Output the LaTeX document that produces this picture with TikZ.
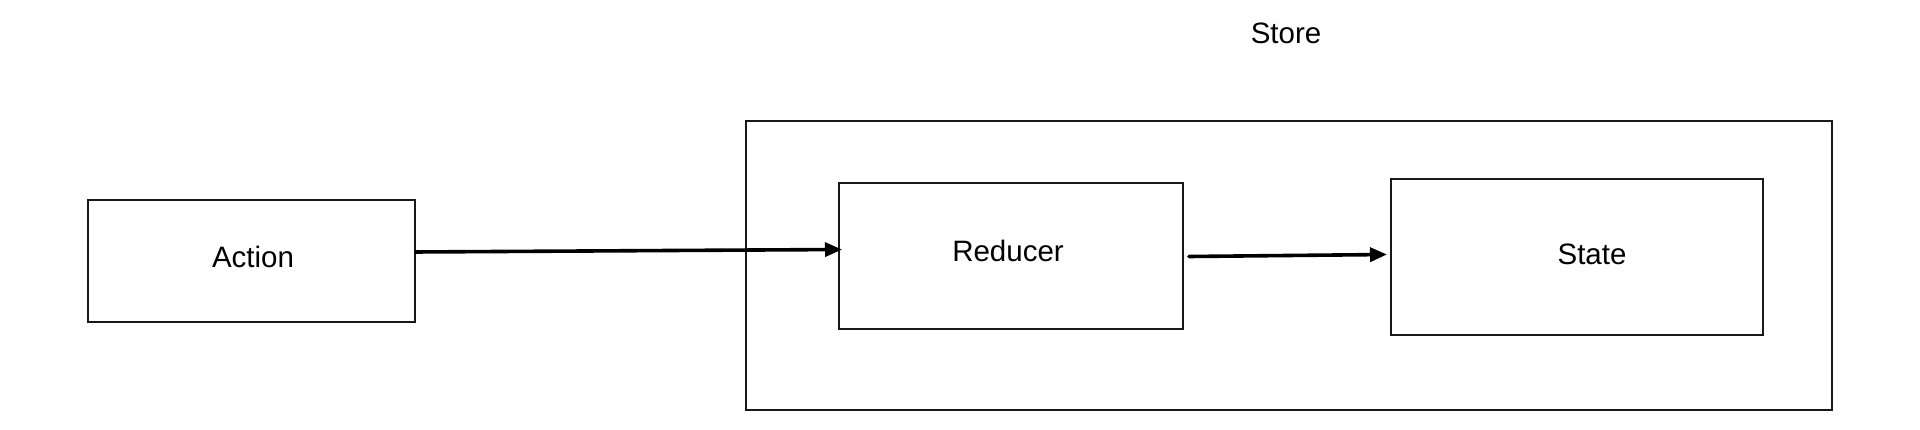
\documentclass[tikz,border=0pt]{standalone}
\usepackage{fontspec}
\setmainfont{Liberation Sans}
\usetikzlibrary{arrows.meta}
\begin{document}
\begin{tikzpicture}[x=1pt,y=-1pt,
  box/.style={draw=black!90,line width=2pt,inner sep=0pt,outer sep=0pt},
  lbl/.style={font=\fontsize{29.5}{34}\selectfont,inner sep=0pt},
  conn/.style={line width=3.6pt,-{Triangle[length=17pt,width=14pt]}}]
\useasboundingbox (0,0) rectangle (1920,430);
\fill[white] (0,0) rectangle (1920,430);
% boxes
\node[box,minimum width=1086pt,minimum height=289pt] (store) at (1289,265.5) {};
\node[box,minimum width=327pt,minimum height=122pt] (action) at (251,261) {};
\node[box,minimum width=344pt,minimum height=146pt] (reducer) at (1011,256.5) {};
\node[box,minimum width=372pt,minimum height=156pt] (state) at (1577,257.5) {};
% texts
\node[lbl] (storetxt) at (1286,33) {Store};
\node[lbl] (actiontxt) at ([shift={(2,-4)}]action.center) {Action};
\node[lbl] (reducertxt) at ([shift={(-3,-6)}]reducer.center) {Reducer};
\node[lbl] (statetxt) at ([shift={(15,-3)}]state.center) {State};
% connectors
\draw[conn] ([shift={(0,-9)}]action.east) -- ([shift={(3,-7)}]reducer.west);
\draw[conn,line cap=round] ([xshift=6pt]reducer.east) -- ([shift={(-4,-3)}]state.west);
\end{tikzpicture}
\end{document}
